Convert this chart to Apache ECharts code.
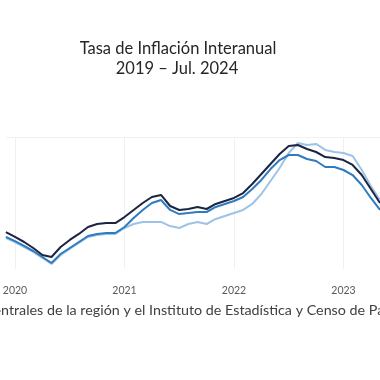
<!DOCTYPE html>
<html>
<head>
<meta charset="utf-8">
<script src="https://cdn.jsdelivr.net/npm/echarts@6/dist/echarts.min.js"></script>
<style>
html,body{margin:0;padding:0;background:#fff;}
#c{width:380px;height:380px;}
</style>
</head>
<body>
<div id="c"></div>
<script>
// Months (category axis), Dec 2019 – May 2023 (visible crop)
const months = [
  "2019-12",
  "2020-01","2020-02","2020-03","2020-04","2020-05","2020-06","2020-07","2020-08","2020-09","2020-10","2020-11","2020-12",
  "2021-01","2021-02","2021-03","2021-04","2021-05","2021-06","2021-07","2021-08","2021-09","2021-10","2021-11","2021-12",
  "2022-01","2022-02","2022-03","2022-04","2022-05","2022-06","2022-07","2022-08","2022-09","2022-10","2022-11","2022-12",
  "2023-01","2023-02","2023-03","2023-04","2023-05"
];
// Inflation rates (%)
const serieOscura = [1.08,0.67,0.25,-0.25,-0.83,-1.00,-0.17,0.42,0.92,1.50,1.75,1.83,1.83,2.33,2.92,3.50,4.00,4.17,3.25,2.92,3.00,3.17,3.00,3.42,3.67,3.92,4.33,5.08,5.92,6.75,7.58,8.25,8.33,8.00,7.75,7.33,7.25,7.08,6.67,5.83,4.67,3.50];
const serieMedia = [0.67,0.33,-0.08,-0.50,-1.00,-1.50,-0.75,-0.25,0.25,0.75,0.92,1.00,1.00,1.50,2.25,2.92,3.50,3.75,2.92,2.58,2.67,2.75,2.75,3.17,3.42,3.67,4.00,4.67,5.42,6.33,7.08,7.50,7.50,7.17,7.00,6.50,6.50,6.25,5.83,5.00,3.92,2.92];
const serieClara = [0.58,0.25,-0.17,-0.58,-1.08,-1.58,-0.83,-0.33,0.17,0.67,0.83,0.92,0.92,1.42,1.75,1.92,1.92,1.92,1.58,1.42,1.75,1.92,1.75,2.17,2.42,2.67,2.92,3.42,4.25,5.33,6.42,7.67,8.50,8.33,8.42,7.92,7.75,7.67,7.42,6.25,4.92,3.75];
const titulo = "Tasa de Inflación Interanual";
const subtitulo = "2019 – Jul. 2024";
const fuente = "Fuente: Bancos Centrales de la región y el Instituto de Estadística y Censo de Panamá.";
const fuenteCorte = "Fuente: Bancos Ce";

const FONT = "Lato, 'Open Sans', sans-serif";
const cv = document.createElement('canvas').getContext('2d');
cv.font = "14.3px " + FONT;
const offset = cv.measureText(fuenteCorte).width;

const chart = echarts.init(document.getElementById('c'), null, {renderer:'canvas'});
const isJan = (i) => months[i].endsWith('-01');
chart.setOption({
  animation:false,
  backgroundColor:'#ffffff',
  grid:{left:-5.6, right:-7.3, top:137, bottom:111, containLabel:false},
  xAxis:{
    type:'category', data:months, boundaryGap:false,
    axisLine:{show:false}, axisTick:{show:false},
    axisLabel:{
      interval:(i)=>isJan(i), formatter:(v)=>v.slice(0,4),
      color:'#595959', fontSize:10.5, fontFamily:FONT, margin:16
    },
    splitLine:{show:true, interval:(i)=>isJan(i), lineStyle:{color:'#f0f0f0', width:1}}
  },
  yAxis:{
    type:'value', min:-2, max:9, interval:11,
    axisLine:{show:false}, axisTick:{show:false}, axisLabel:{show:false},
    splitLine:{show:true, lineStyle:{color:['#ffffff','#f2f2f2'], width:1}}
  },
  graphic:[
    {type:'text', x:178, y:49, style:{text:titulo, fill:'#262626', font:"16.5px "+FONT, textAlign:'center', textVerticalAlign:'middle'}},
    {type:'text', x:177, y:69, style:{text:subtitulo, fill:'#262626', font:"16.5px "+FONT, textAlign:'center', textVerticalAlign:'middle'}},
    {type:'text', x:1-offset, y:310, style:{text:fuente, fill:'#404040', font:"14.3px "+FONT, textAlign:'left', textVerticalAlign:'middle'}}
  ],
  series:[
    {name:'Serie clara', type:'line', data:serieClara, symbol:'none', lineStyle:{color:'#9dc3e6', width:2}, itemStyle:{color:'#9dc3e6'}},
    {name:'Serie media', type:'line', data:serieMedia, symbol:'none', lineStyle:{color:'#2e7bc0', width:2}, itemStyle:{color:'#2e7bc0'}},
    {name:'Serie oscura', type:'line', data:serieOscura, symbol:'none', lineStyle:{color:'#1b2440', width:2}, itemStyle:{color:'#1b2440'}}
  ]
});
</script>
</body>
</html>
